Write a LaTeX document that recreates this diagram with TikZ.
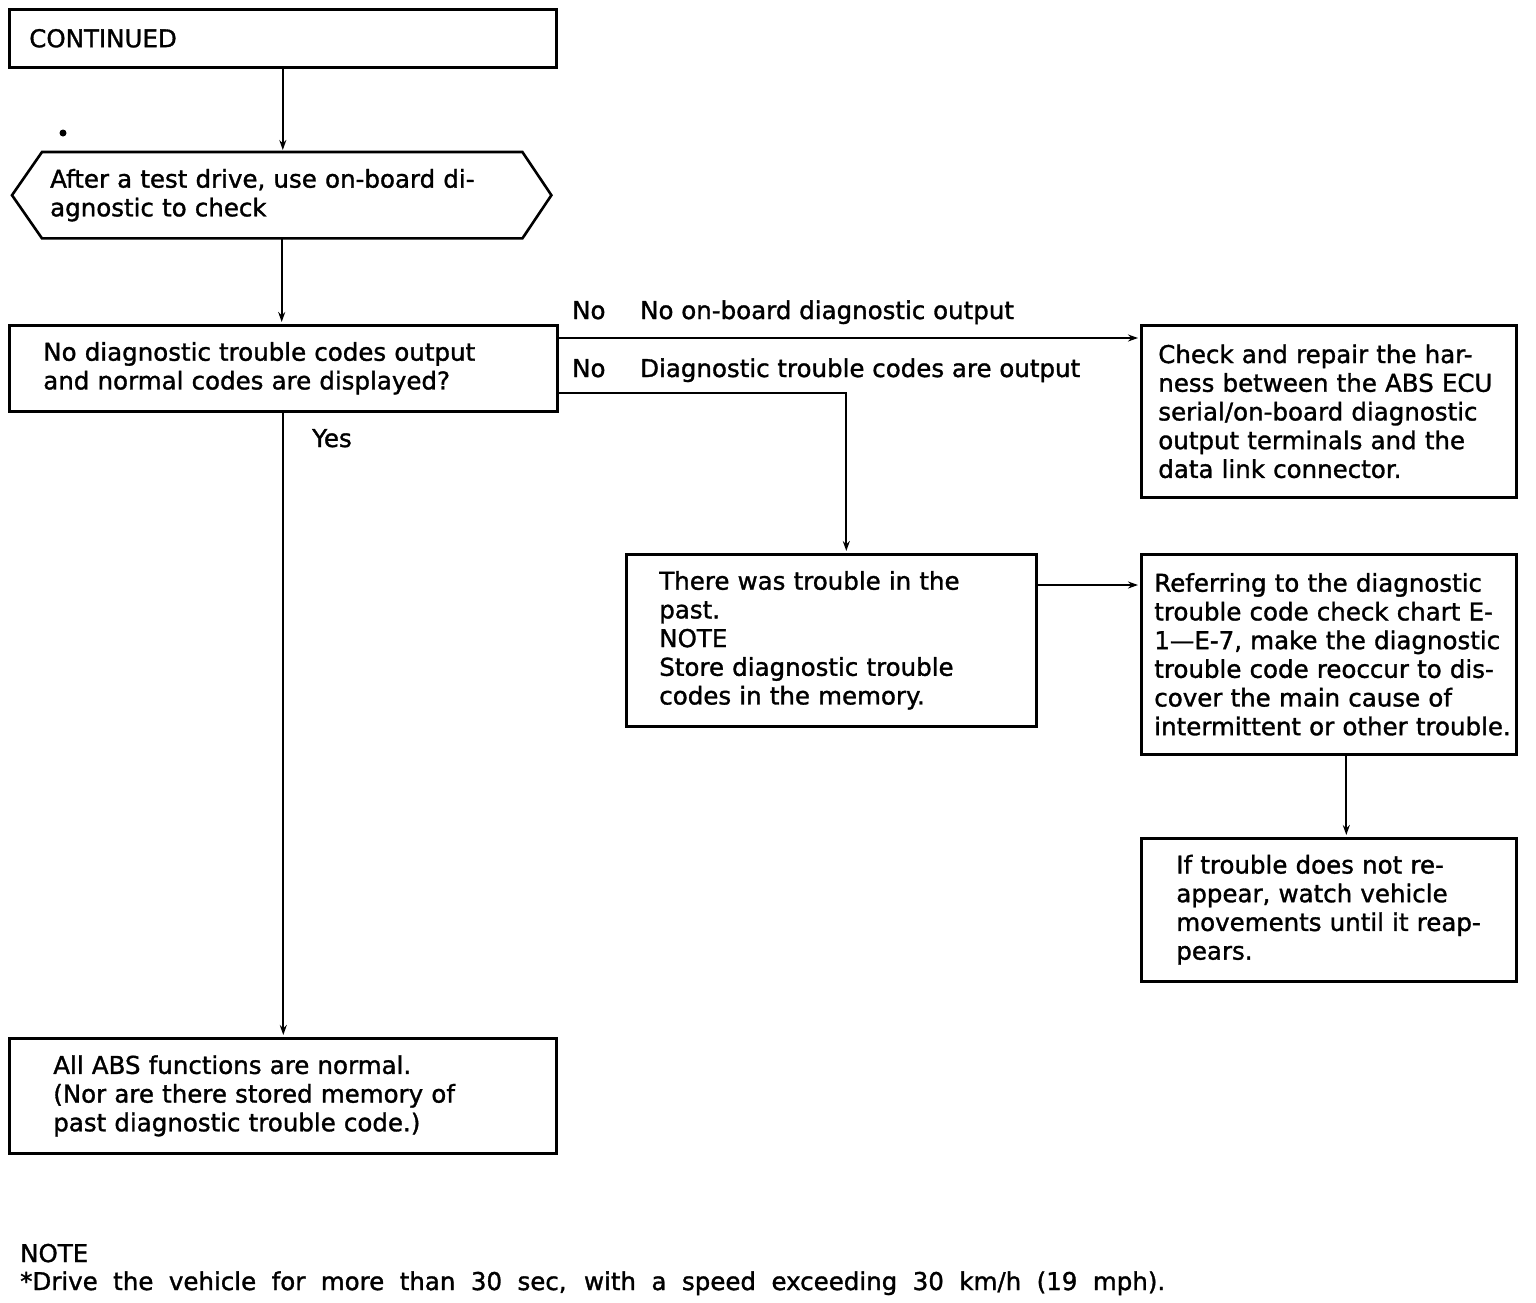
\documentclass[tikz,border=0pt]{standalone}
\usepackage{fontspec}
\setmainfont{DejaVu Sans}[AutoFakeBold=1.3]
\usetikzlibrary{arrows.meta}
\begin{document}
\begin{tikzpicture}[x=1pt,y=-1pt,
  txt/.style={rectangle, inner ysep=0pt, align=left, anchor=north west, font=\fontsize{24.5}{28.7}\selectfont\bfseries},
  box/.style={txt, draw, line width=2.6pt},
  lbl/.style={inner sep=0pt, anchor=base west, font=\fontsize{24.5}{28.7}\selectfont\bfseries},
  conn/.style={line width=2pt},
  arr/.style={conn, -{Stealth[length=10pt,width=7pt]}, shorten >=2pt}
]
\useasboundingbox (0,0) rectangle (1536,1302);
\fill[white] (0,0) rectangle (1536,1302);

\node[box, minimum height=58pt, text width=507pt, inner xsep=20pt] (cont) at (8,8) {\mbox{CONTINUED}};

\node[txt, minimum height=86pt, text width=463pt, inner xsep=38pt] (hex) at (12,152)
  {\mbox{After a test drive, use on-board di-}\\\mbox{agnostic to check}};
\draw[line width=2.6pt] (hex.west) -- ([xshift=30pt]hex.north west) -- ([xshift=-29pt]hex.north east)
  -- (hex.east) -- ([xshift=-29pt]hex.south east) -- ([xshift=30pt]hex.south west) -- cycle;
\fill (63,133) circle (3.5pt);

\node[box, minimum height=86pt, text width=480pt, inner xsep=34pt] (dec) at (8,324)
  {\mbox{No diagnostic trouble codes output}\\\mbox{and normal codes are displayed?}};

\node[box, minimum height=172pt, text width=341pt, inner xsep=17pt] (check) at (1140,324)
  {\mbox{Check and repair the har-}\\\mbox{ness between the ABS ECU}\\\mbox{serial/on-board diagnostic}\\\mbox{output terminals and the}\\\mbox{data link connector.}};

\node[box, minimum height=172pt, text width=344pt, inner xsep=33pt] (past) at (625,553)
  {\mbox{There was trouble in the}\\\mbox{past.}\\\mbox{NOTE}\\\mbox{Store diagnostic trouble}\\\mbox{codes in the memory.}};

\node[box, minimum height=200pt, text width=349pt, inner xsep=13pt] (ref) at (1140,553)
  {\mbox{Referring to the diagnostic}\\\mbox{trouble code check chart E-}\\\mbox{1—E-7, make the diagnostic}\\\mbox{trouble code reoccur to dis-}\\\mbox{cover the main cause of}\\\mbox{intermittent or other trouble.}};

\node[box, minimum height=143pt, text width=305pt, inner xsep=35pt] (iftr) at (1140,837)
  {\mbox{If trouble does not re-}\\\mbox{appear, watch vehicle}\\\mbox{movements until it reap-}\\\mbox{pears.}};

\node[box, minimum height=115pt, text width=459pt, inner xsep=44pt] (abs) at (8,1037)
  {\mbox{All ABS functions are normal.}\\\mbox{(Nor are there stored memory of}\\\mbox{past diagnostic trouble code.)}};

\node[lbl] (no1) at (572,319) {No};
\node[lbl] (no1t) at (640,319) {No on-board diagnostic output};
\node[lbl] (no2) at (572,377) {No};
\node[lbl] (no2t) at (640,377) {Diagnostic trouble codes are output};
\node[lbl] (yes) at (312,447) {Yes};

\node[lbl] (notehdr) at (20,1262) {NOTE};
\node[lbl, font=\fontsize{24.5}{28}\selectfont\bfseries] (notetxt) at (20,1290)
  {\makebox[1145pt][s]{*Drive the vehicle for more than 30 sec, with a speed exceeding 30 km/h (19 mph).}};

\draw[arr] (cont.south) -- (cont.south |- hex.north);
\draw[arr] (hex.south) -- (hex.south |- dec.north);
\draw[arr] ([yshift=-14pt]dec.north east) -- ([yshift=-14pt]check.north west);
\draw[arr] ([yshift=20pt]dec.south east) -| ([xshift=15pt]past.north);
\draw[arr] (dec.south) -- (dec.south |- abs.north);
\draw[arr] ([yshift=-32pt]past.north east) -- ([yshift=-32pt]ref.north west);
\draw[arr] ([xshift=17.5pt]ref.south) -- ([xshift=17.5pt]iftr.north);
\end{tikzpicture}
\end{document}
